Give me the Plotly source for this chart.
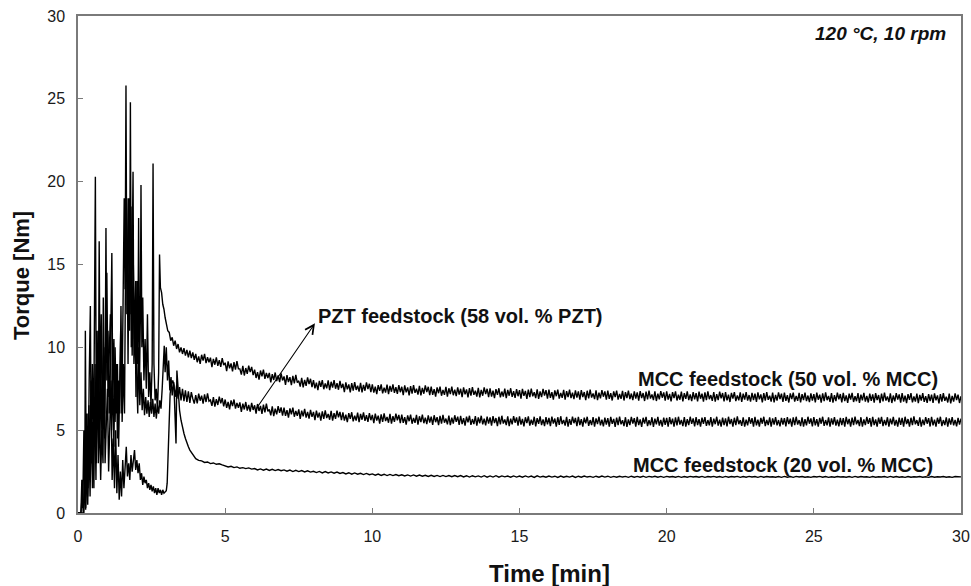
import plotly.graph_objects as go

# ---------------- data ----------------
# Early, spiky part (0 - 3.95 min), irregular sampling per series
mcc50_early_t = [0, 0.2, 0.23, 0.26, 0.3, 0.33, 0.37, 0.4, 0.44, 0.47, 0.5, 0.54, 0.58, 0.62, 0.66, 0.7,
                 0.74, 0.78, 0.82, 0.86, 0.9, 0.94, 0.98, 1.02, 1.06, 1.1, 1.14, 1.18, 1.22, 1.26, 1.3,
                 1.34, 1.38, 1.42, 1.45, 1.49, 1.53, 1.57, 1.6, 1.63, 1.66, 1.69, 1.72, 1.75, 1.78, 1.81,
                 1.84, 1.87, 1.9, 1.94, 1.97, 2.0, 2.03, 2.06, 2.09, 2.12, 2.14, 2.17, 2.2, 2.24, 2.28,
                 2.32, 2.36, 2.4, 2.44, 2.48, 2.52, 2.55, 2.58, 2.62, 2.66, 2.7, 2.74, 2.77, 2.8, 2.84,
                 2.88, 2.92, 2.96, 3.0, 3.05, 3.1, 3.15, 3.2, 3.25, 3.3, 3.35, 3.4, 3.45, 3.5, 3.55, 3.6,
                 3.65, 3.7, 3.75, 3.8, 3.85, 3.9, 3.95]
mcc50_early_v = [0, 0, 2.5, 0.3, 4, 1, 6.5, 2, 8, 3, 5.5, 1.5, 9, 3, 7, 11,
                 4, 8.5, 3.5, 13, 6, 10, 14.5, 7, 9.5, 12, 5, 8, 4, 10, 6,
                 9, 4, 7.5, 11, 6, 13, 19, 13.5, 25.8, 12, 16, 19, 11, 24.8, 10,
                 15, 20.6, 9, 12, 7, 14, 9, 17.8, 8, 12, 19.8, 10, 13, 8, 10.5,
                 7.5, 12, 7, 8.5, 6.5, 9, 21.1, 9, 6.8, 7.5, 6.2, 8.5, 15.6, 13.6, 13.3,
                 12.6, 12.3, 11.8, 11.4, 11.0, 10.9, 10.4, 10.6, 10.1, 10.4, 9.9, 10.2, 9.7, 10.0, 9.6, 9.95,
                 9.5, 9.85, 9.4, 9.8, 9.35, 9.7, 9.25]

pzt_early_t = [0, 0.1, 0.13, 0.16, 0.2, 0.23, 0.25, 0.28, 0.31, 0.34, 0.38, 0.42, 0.45, 0.49, 0.53, 0.56,
               0.59, 0.62, 0.65, 0.69, 0.72, 0.75, 0.79, 0.83, 0.87, 0.91, 0.95, 0.98, 1.02, 1.06, 1.1,
               1.15, 1.18, 1.22, 1.26, 1.3, 1.34, 1.38, 1.42, 1.46, 1.5, 1.54, 1.58, 1.62, 1.66, 1.7,
               1.74, 1.77, 1.8, 1.84, 1.88, 1.92, 1.96, 2.0, 2.03, 2.06, 2.1, 2.14, 2.18, 2.22, 2.26,
               2.3, 2.34, 2.38, 2.42, 2.46, 2.5, 2.54, 2.58, 2.62, 2.66, 2.7, 2.74, 2.78, 2.82, 2.86,
               2.9, 2.93, 2.96, 3.0, 3.04, 3.08, 3.12, 3.16, 3.2, 3.25, 3.3, 3.35, 3.4, 3.45, 3.5, 3.55,
               3.6, 3.65, 3.7, 3.75, 3.8, 3.85, 3.9, 3.95]
pzt_early_v = [0, 0, 2, 0.3, 5, 1, 11, 2, 6, 1.5, 8, 12.5, 3, 9, 4, 12,
               20.3, 6, 11, 5, 16.4, 7, 12, 5, 9.5, 4.5, 17.2, 8, 11, 6, 9,
               15.7, 7, 10.5, 5.5, 9, 4.5, 8, 6, 12.5, 5.5, 9, 6, 16, 19, 9,
               17, 12, 18.5, 9.5, 15, 10.5, 14, 8, 6, 10, 6.5, 8.5, 6.2, 7.5, 5.9,
               7.0, 6.0, 6.8, 5.8, 6.7, 6.0, 6.9, 5.8, 6.6, 5.7, 6.5, 6.0, 6.8, 6.3, 7.5,
               9.0, 10.1, 8.5, 10.0, 8.0, 9.2, 7.4, 8.2, 7.1, 7.9, 7.0, 7.7, 6.9, 7.6, 6.8, 7.5,
               6.75, 7.4, 6.7, 7.35, 6.65, 7.3, 6.9, 6.6]

mcc20_early_t = [0, 0.1, 0.14, 0.18, 0.22, 0.26, 0.3, 0.33, 0.37, 0.41, 0.45, 0.49, 0.53, 0.57, 0.61,
                 0.65, 0.69, 0.73, 0.77, 0.81, 0.85, 0.88, 0.92, 0.96, 1.0, 1.04, 1.08, 1.12, 1.16, 1.2,
                 1.24, 1.28, 1.32, 1.36, 1.4, 1.44, 1.48, 1.52, 1.56, 1.6, 1.64, 1.68, 1.72, 1.76, 1.8,
                 1.84, 1.88, 1.92, 1.96, 2.0, 2.04, 2.08, 2.12, 2.16, 2.2, 2.24, 2.28, 2.32, 2.36, 2.4,
                 2.44, 2.48, 2.52, 2.56, 2.6, 2.64, 2.68, 2.72, 2.76, 2.8, 2.84, 2.88, 2.92, 2.96, 3.0,
                 3.03, 3.08, 3.13, 3.18, 3.22, 3.26, 3.3, 3.33, 3.36, 3.4, 3.45, 3.5, 3.55, 3.6, 3.65,
                 3.7, 3.75, 3.8, 3.85, 3.9, 3.95]
mcc20_early_v = [0, 0, 1, 0, 2.2, 0.2, 3, 0.5, 4.5, 1, 6, 1.5, 4, 7, 2,
                 9, 3, 6, 2, 5, 3, 10, 3, 6, 7.5, 2.5, 5, 8, 2, 4.5,
                 1.5, 5, 1.2, 3.5, 0.8, 2.5, 1.0, 3.2, 1.5, 2.8, 4, 2.2, 3.0, 2.0, 3.5,
                 2.5, 3.2, 3.8, 2.6, 3.2, 2.4, 3.0, 2.0, 2.4, 1.7, 2.2, 1.8, 2.0, 1.5, 1.8,
                 1.4, 1.7, 1.3, 1.6, 1.2, 1.5, 1.1, 1.5, 1.2, 1.4, 1.1, 1.4, 1.2, 1.3, 1.35,
                 1.8, 4.5, 7.2, 7.8, 8.0, 7.7, 5.2, 4.2, 8.6, 7.2, 6.2, 5.6, 5.1, 4.8, 4.5,
                 4.2, 4.0, 3.8, 3.65, 3.5, 3.38]

# Late part: torque recorded every 0.05 min (upper curves) / 0.1 min (lower curve), 4 - 30 min
late_time_fine = [round(4.0 + 0.05 * i, 2) for i in range(521)]
late_time = [round(4.0 + 0.1 * i, 1) for i in range(261)]

mcc50_late = [
    9.60, 9.10, 9.45, 9.00, 9.55, 9.20, 9.60, 9.05, 9.40, 9.10, 9.38, 8.80, 9.30, 8.95, 9.40, 8.88, 9.22, 8.82, 9.35, 8.92,
    9.07, 8.57, 9.15, 8.73, 9.03, 8.55, 9.11, 8.65, 9.17, 8.70, 8.70, 8.35, 8.88, 8.30, 8.75, 8.40, 8.90, 8.50, 8.82, 8.32,
    8.65, 8.15, 8.50, 8.05, 8.60, 8.25, 8.65, 8.10, 8.45, 8.15, 8.46, 7.88, 8.38, 8.03, 8.48, 7.96, 8.30, 7.90, 8.43, 8.00,
    8.24, 7.74, 8.32, 7.90, 8.20, 7.72, 8.28, 7.82, 8.34, 7.87, 7.98, 7.63, 8.16, 7.58, 8.03, 7.68, 8.18, 7.78, 8.10, 7.60,
    8.02, 7.52, 7.87, 7.42, 7.97, 7.62, 8.02, 7.47, 7.82, 7.52, 8.00, 7.42, 7.92, 7.57, 8.02, 7.50, 7.84, 7.44, 7.97, 7.54,
    7.80, 7.30, 7.88, 7.46, 7.76, 7.28, 7.84, 7.38, 7.90, 7.43, 7.68, 7.33, 7.86, 7.28, 7.73, 7.38, 7.88, 7.48, 7.80, 7.30,
    7.77, 7.27, 7.62, 7.17, 7.72, 7.37, 7.77, 7.22, 7.57, 7.27, 7.75, 7.17, 7.67, 7.32, 7.77, 7.25, 7.59, 7.19, 7.72, 7.29,
    7.62, 7.12, 7.70, 7.28, 7.58, 7.10, 7.66, 7.20, 7.72, 7.25, 7.50, 7.15, 7.68, 7.10, 7.55, 7.20, 7.70, 7.30, 7.62, 7.12,
    7.63, 7.13, 7.48, 7.03, 7.58, 7.23, 7.63, 7.08, 7.43, 7.13, 7.61, 7.03, 7.53, 7.18, 7.63, 7.11, 7.45, 7.05, 7.58, 7.15,
    7.50, 7.00, 7.58, 7.16, 7.46, 6.98, 7.54, 7.08, 7.60, 7.13, 7.38, 7.03, 7.56, 6.98, 7.43, 7.08, 7.58, 7.18, 7.50, 7.00,
    7.53, 7.03, 7.38, 6.93, 7.48, 7.13, 7.53, 6.98, 7.33, 7.03, 7.51, 6.93, 7.43, 7.08, 7.53, 7.01, 7.35, 6.95, 7.48, 7.05,
    7.41, 6.91, 7.49, 7.07, 7.37, 6.89, 7.45, 6.99, 7.51, 7.04, 7.29, 6.94, 7.47, 6.89, 7.34, 6.99, 7.49, 7.09, 7.41, 6.91,
    7.45, 6.95, 7.30, 6.85, 7.40, 7.05, 7.45, 6.90, 7.25, 6.95, 7.43, 6.85, 7.35, 7.00, 7.45, 6.93, 7.27, 6.87, 7.40, 6.97,
    7.34, 6.84, 7.42, 7.00, 7.30, 6.82, 7.38, 6.92, 7.44, 6.97, 7.22, 6.87, 7.40, 6.82, 7.27, 6.92, 7.42, 7.02, 7.34, 6.84,
    7.39, 6.89, 7.24, 6.79, 7.34, 6.99, 7.39, 6.84, 7.19, 6.89, 7.37, 6.79, 7.29, 6.94, 7.39, 6.87, 7.21, 6.81, 7.34, 6.91,
    7.28, 6.78, 7.36, 6.94, 7.24, 6.76, 7.32, 6.86, 7.38, 6.91, 7.16, 6.81, 7.34, 6.76, 7.21, 6.86, 7.36, 6.96, 7.28, 6.78,
    7.34, 6.84, 7.19, 6.74, 7.29, 6.94, 7.34, 6.79, 7.14, 6.84, 7.32, 6.74, 7.24, 6.89, 7.34, 6.82, 7.16, 6.76, 7.29, 6.86,
    7.24, 6.74, 7.32, 6.90, 7.20, 6.72, 7.28, 6.82, 7.34, 6.87, 7.12, 6.77, 7.30, 6.72, 7.17, 6.82, 7.32, 6.92, 7.24, 6.74,
    7.30, 6.80, 7.15, 6.70, 7.25, 6.90, 7.30, 6.75, 7.10, 6.80, 7.28, 6.70, 7.20, 6.85, 7.30, 6.78, 7.12, 6.72, 7.25, 6.82,
    7.20, 6.70, 7.28, 6.86, 7.16, 6.68, 7.24, 6.78, 7.30, 6.83, 7.08, 6.73, 7.26, 6.68, 7.13, 6.78, 7.28, 6.88, 7.20, 6.70,
    7.27, 6.77, 7.12, 6.67, 7.22, 6.87, 7.27, 6.72, 7.07, 6.77, 7.25, 6.67, 7.17, 6.82, 7.27, 6.75, 7.09, 6.69, 7.22, 6.79,
    7.18, 6.68, 7.26, 6.84, 7.14, 6.66, 7.22, 6.76, 7.28, 6.81, 7.06, 6.71, 7.24, 6.66, 7.11, 6.76, 7.26, 6.86, 7.18, 6.68,
    7.25, 6.75, 7.10, 6.65, 7.20, 6.85, 7.25, 6.70, 7.05, 6.75, 7.23, 6.65, 7.15, 6.80, 7.25, 6.73, 7.07, 6.67, 7.20, 6.77,
    7.16, 6.66, 7.24, 6.82, 7.12, 6.64, 7.20, 6.74, 7.26, 6.79, 7.04, 6.69, 7.22, 6.64, 7.09, 6.74, 7.24, 6.84, 7.16, 6.66,
    7.23, 6.73, 7.08, 6.63, 7.18, 6.83, 7.23, 6.68, 7.03, 6.73, 7.21, 6.63, 7.13, 6.78, 7.23, 6.71, 7.05, 6.65, 7.18, 6.75,
    7.14, 6.64, 7.22, 6.80, 7.10, 6.62, 7.18, 6.72, 7.24, 6.77, 7.02, 6.67, 7.20, 6.62, 7.07, 6.72, 7.22, 6.82, 7.14, 6.64,
    7.05]

pzt_late = [
    7.12, 6.62, 7.20, 6.78, 7.08, 6.60, 7.16, 6.70, 7.22, 6.75, 6.82, 6.47, 7.00, 6.42, 6.87, 6.52, 7.02, 6.62, 6.94, 6.44,
    6.85, 6.35, 6.70, 6.25, 6.80, 6.45, 6.85, 6.30, 6.65, 6.35, 6.68, 6.10, 6.60, 6.25, 6.70, 6.18, 6.52, 6.12, 6.65, 6.22,
    6.50, 6.00, 6.58, 6.16, 6.46, 5.98, 6.54, 6.08, 6.60, 6.13, 6.25, 5.90, 6.43, 5.85, 6.30, 5.95, 6.45, 6.05, 6.37, 5.87,
    6.36, 5.86, 6.21, 5.76, 6.31, 5.96, 6.36, 5.81, 6.16, 5.86, 6.26, 5.68, 6.18, 5.83, 6.28, 5.76, 6.10, 5.70, 6.23, 5.80,
    6.10, 5.60, 6.18, 5.76, 6.06, 5.58, 6.14, 5.68, 6.20, 5.73, 5.98, 5.63, 6.16, 5.58, 6.03, 5.68, 6.18, 5.78, 6.10, 5.60,
    6.08, 5.58, 5.93, 5.48, 6.03, 5.68, 6.08, 5.53, 5.88, 5.58, 6.06, 5.48, 5.98, 5.63, 6.08, 5.56, 5.90, 5.50, 6.03, 5.60,
    5.92, 5.42, 6.00, 5.58, 5.88, 5.40, 5.96, 5.50, 6.02, 5.55, 5.80, 5.45, 5.98, 5.40, 5.85, 5.50, 6.00, 5.60, 5.92, 5.42,
    5.94, 5.44, 5.79, 5.34, 5.89, 5.54, 5.94, 5.39, 5.74, 5.44, 5.92, 5.34, 5.84, 5.49, 5.94, 5.42, 5.76, 5.36, 5.89, 5.46,
    5.82, 5.32, 5.90, 5.48, 5.78, 5.30, 5.86, 5.40, 5.92, 5.45, 5.70, 5.35, 5.88, 5.30, 5.75, 5.40, 5.90, 5.50, 5.82, 5.32,
    5.87, 5.37, 5.72, 5.27, 5.82, 5.47, 5.87, 5.32, 5.67, 5.37, 5.85, 5.27, 5.77, 5.42, 5.87, 5.35, 5.69, 5.29, 5.82, 5.39,
    5.77, 5.27, 5.85, 5.43, 5.73, 5.25, 5.81, 5.35, 5.87, 5.40, 5.65, 5.30, 5.83, 5.25, 5.70, 5.35, 5.85, 5.45, 5.77, 5.27,
    5.83, 5.33, 5.68, 5.23, 5.78, 5.43, 5.83, 5.28, 5.63, 5.33, 5.81, 5.23, 5.73, 5.38, 5.83, 5.31, 5.65, 5.25, 5.78, 5.35,
    5.74, 5.24, 5.82, 5.40, 5.70, 5.22, 5.78, 5.32, 5.84, 5.37, 5.62, 5.27, 5.80, 5.22, 5.67, 5.32, 5.82, 5.42, 5.74, 5.24,
    5.81, 5.31, 5.66, 5.21, 5.76, 5.41, 5.81, 5.26, 5.61, 5.31, 5.79, 5.21, 5.71, 5.36, 5.81, 5.29, 5.63, 5.23, 5.76, 5.33,
    5.72, 5.22, 5.80, 5.38, 5.68, 5.20, 5.76, 5.30, 5.82, 5.35, 5.60, 5.25, 5.78, 5.20, 5.65, 5.30, 5.80, 5.40, 5.72, 5.22,
    5.80, 5.30, 5.65, 5.20, 5.75, 5.40, 5.80, 5.25, 5.60, 5.30, 5.78, 5.20, 5.70, 5.35, 5.80, 5.28, 5.62, 5.22, 5.75, 5.32,
    5.74, 5.21, 5.79, 5.36, 5.69, 5.22, 5.77, 5.29, 5.81, 5.34, 5.62, 5.24, 5.79, 5.21, 5.66, 5.31, 5.81, 5.38, 5.71, 5.23,
    5.79, 5.31, 5.66, 5.21, 5.76, 5.38, 5.79, 5.26, 5.61, 5.29, 5.79, 5.21, 5.69, 5.36, 5.81, 5.27, 5.63, 5.21, 5.76, 5.31,
    5.71, 5.23, 5.81, 5.37, 5.67, 5.21, 5.75, 5.31, 5.83, 5.36, 5.61, 5.26, 5.77, 5.21, 5.64, 5.29, 5.79, 5.39, 5.73, 5.21,
    5.81, 5.29, 5.64, 5.22, 5.74, 5.39, 5.81, 5.24, 5.62, 5.31, 5.77, 5.22, 5.71, 5.34, 5.79, 5.29, 5.61, 5.23, 5.74, 5.33,
    5.73, 5.23, 5.79, 5.37, 5.69, 5.21, 5.77, 5.31, 5.81, 5.34, 5.61, 5.24, 5.77, 5.21, 5.66, 5.29, 5.81, 5.39, 5.71, 5.23,
    5.79, 5.29, 5.66, 5.21, 5.74, 5.39, 5.81, 5.26, 5.61, 5.29, 5.77, 5.21, 5.71, 5.34, 5.79, 5.27, 5.63, 5.23, 5.74, 5.31,
    5.72, 5.22, 5.80, 5.36, 5.68, 5.22, 5.76, 5.30, 5.82, 5.35, 5.62, 5.25, 5.78, 5.22, 5.65, 5.30, 5.80, 5.38, 5.72, 5.22,
    5.80, 5.30, 5.65, 5.22, 5.75, 5.38, 5.80, 5.25, 5.62, 5.30, 5.78, 5.22, 5.70, 5.35, 5.80, 5.28, 5.62, 5.22, 5.75, 5.32,
    5.74, 5.21, 5.81, 5.37, 5.67, 5.21, 5.75, 5.31, 5.83, 5.35, 5.61, 5.26, 5.77, 5.21, 5.64, 5.31, 5.79, 5.39, 5.73, 5.22,
    5.81, 5.29, 5.64, 5.21, 5.75, 5.39, 5.81, 5.24, 5.61, 5.31, 5.77, 5.22, 5.71, 5.34, 5.79, 5.29, 5.62, 5.23, 5.74, 5.33,
    5.70]

mcc20_late = [
    3.28, 3.18, 3.15, 3.05, 3.08, 2.98, 3.02, 2.94, 2.97, 2.90,
    2.86, 2.78, 2.82, 2.74, 2.78, 2.70, 2.74, 2.68, 2.72, 2.65,
    2.68, 2.60, 2.66, 2.58, 2.65, 2.57, 2.64, 2.56, 2.62, 2.55,
    2.60, 2.52, 2.59, 2.50, 2.58, 2.50, 2.56, 2.48, 2.55, 2.47,
    2.52, 2.44, 2.51, 2.42, 2.50, 2.42, 2.48, 2.40, 2.47, 2.39,
    2.44, 2.36, 2.43, 2.34, 2.42, 2.34, 2.40, 2.32, 2.39, 2.31,
    2.36, 2.28, 2.35, 2.27, 2.34, 2.26, 2.33, 2.26, 2.32, 2.25,
    2.31, 2.24, 2.30, 2.23, 2.30, 2.22, 2.29, 2.22, 2.28, 2.21,
    2.28, 2.21, 2.27, 2.20, 2.27, 2.20, 2.26, 2.19, 2.26, 2.19,
    2.26, 2.18, 2.25, 2.17, 2.25, 2.18, 2.24, 2.17, 2.25, 2.16,
    2.24, 2.17, 2.25, 2.16, 2.24, 2.18, 2.23, 2.16, 2.24, 2.17,
    2.23, 2.16, 2.24, 2.17, 2.23, 2.15, 2.24, 2.17, 2.22, 2.16,
    2.23, 2.17, 2.22, 2.15, 2.23, 2.16, 2.22, 2.17, 2.23, 2.15,
    2.22, 2.16, 2.23, 2.17, 2.21, 2.15, 2.22, 2.16, 2.23, 2.17,
    2.22, 2.15, 2.21, 2.16, 2.22, 2.17, 2.21, 2.15, 2.22, 2.16,
    2.21, 2.16, 2.22, 2.15, 2.21, 2.17, 2.22, 2.16, 2.21, 2.15,
    2.21, 2.17, 2.20, 2.16, 2.21, 2.15, 2.20, 2.16, 2.21, 2.17,
    2.20, 2.16, 2.21, 2.15, 2.20, 2.17, 2.21, 2.16, 2.20, 2.15,
    2.21, 2.16, 2.20, 2.17, 2.21, 2.15, 2.20, 2.16, 2.21, 2.17,
    2.20, 2.15, 2.21, 2.16, 2.20, 2.17, 2.19, 2.16, 2.20, 2.15,
    2.21, 2.16, 2.20, 2.15, 2.21, 2.17, 2.20, 2.16, 2.19, 2.15,
    2.20, 2.17, 2.21, 2.16, 2.20, 2.15, 2.19, 2.16, 2.20, 2.17,
    2.19, 2.16, 2.20, 2.15, 2.21, 2.16, 2.20, 2.17, 2.19, 2.15,
    2.20, 2.16, 2.19, 2.17, 2.20, 2.15, 2.21, 2.16, 2.20, 2.16,
    2.19, 2.15, 2.20, 2.16, 2.19, 2.17, 2.20, 2.16, 2.19, 2.15,
    2.20, 2.16, 2.19, 2.17, 2.20, 2.16, 2.19, 2.15, 2.20, 2.17,
    2.18]

x_ticks = [0, 5, 10, 15, 20, 25, 30]
y_ticks = [0, 5, 10, 15, 20, 25, 30]

labels = {
    "pzt": "PZT feedstock (58 vol. % PZT)",
    "mcc50": "MCC feedstock (50 vol. % MCC)",
    "mcc20": "MCC feedstock (20 vol. % MCC)",
    "cond": "120 \u00b0C, 10 rpm",
}
label_pos = {  # (time, torque) anchor of each label
    "pzt": (8.1, 11.9),
    "mcc50": (18.95, 8.1),
    "mcc20": (18.8, 2.9),
    "cond": (29.55, 28.95),
}
arrow_tail = (6.02, 6.2)
arrow_head = (8.05, 11.45)

# ---------------- figure ----------------
FONT = "Arial, 'Liberation Sans', Helvetica, sans-serif"
fig = go.Figure()

series = [
    (mcc50_early_t, mcc50_early_v, late_time_fine, mcc50_late),
    (pzt_early_t, pzt_early_v, late_time_fine, pzt_late),
    (mcc20_early_t, mcc20_early_v, late_time, mcc20_late),
]
for et, ev, lt, lv in series:
    fig.add_trace(go.Scatter(
        x=et + lt, y=ev + lv, mode="lines",
        line=dict(color="black", width=1.4), showlegend=False, hoverinfo="skip",
    ))

axis_common = dict(
    showline=True, linecolor="#7a7a7a", linewidth=1.5, mirror=True,
    ticks="inside", ticklen=5, tickwidth=1.2, tickcolor="#7a7a7a",
    showgrid=False, zeroline=False, automargin=False,
    tickfont=dict(family=FONT, size=16, color="#1a1a1a"),
)
fig.update_xaxes(range=[0, 30], tickvals=x_ticks, ticktext=[str(v) for v in x_ticks],
                 ticklabelstandoff=8, **axis_common)
fig.update_yaxes(range=[0, 30], tickvals=y_ticks, ticktext=[str(v) for v in y_ticks],
                 ticklabelstandoff=8, **axis_common)

ann = []
for key in ("pzt", "mcc50", "mcc20"):
    x, y = label_pos[key]
    ann.append(dict(x=x, y=y, xref="x", yref="y", text="<b>%s</b>" % labels[key],
                    showarrow=False, xanchor="left", yanchor="middle",
                    font=dict(family=FONT, size=20, color="#111111")))
x, y = label_pos["cond"]
ann.append(dict(x=x, y=y, xref="x", yref="y", text="<b><i>%s</i></b>" % labels["cond"],
                showarrow=False, xanchor="right", yanchor="middle",
                font=dict(family=FONT, size=19, color="#111111")))
ann.append(dict(x=arrow_head[0], y=arrow_head[1], ax=arrow_tail[0], ay=arrow_tail[1],
                xref="x", yref="y", axref="x", ayref="y", text="", showarrow=True,
                arrowhead=5, arrowsize=1.6, arrowwidth=1.1, arrowcolor="black"))
# axis titles
ann.append(dict(x=0.5345, y=-0.121, xref="paper", yref="paper", text="<b>Time [min]</b>",
                showarrow=False, xanchor="center", yanchor="middle",
                font=dict(family=FONT, size=24, color="#111111")))
ann.append(dict(x=-0.0634, y=0.477, xref="paper", yref="paper", text="<b>Torque [Nm]</b>",
                showarrow=False, xanchor="center", yanchor="middle", textangle=-90,
                font=dict(family=FONT, size=22, color="#111111")))

fig.update_layout(
    width=971, height=586,
    margin=dict(l=78, r=10, t=16, b=73, autoexpand=False),
    paper_bgcolor="white", plot_bgcolor="white",
    annotations=ann,
)

# remove the default 8 px page margin so the figure fills the window exactly
fig.write_html("out.html", config={"displayModeBar": False},
               post_script="document.body.style.margin='0px';")
